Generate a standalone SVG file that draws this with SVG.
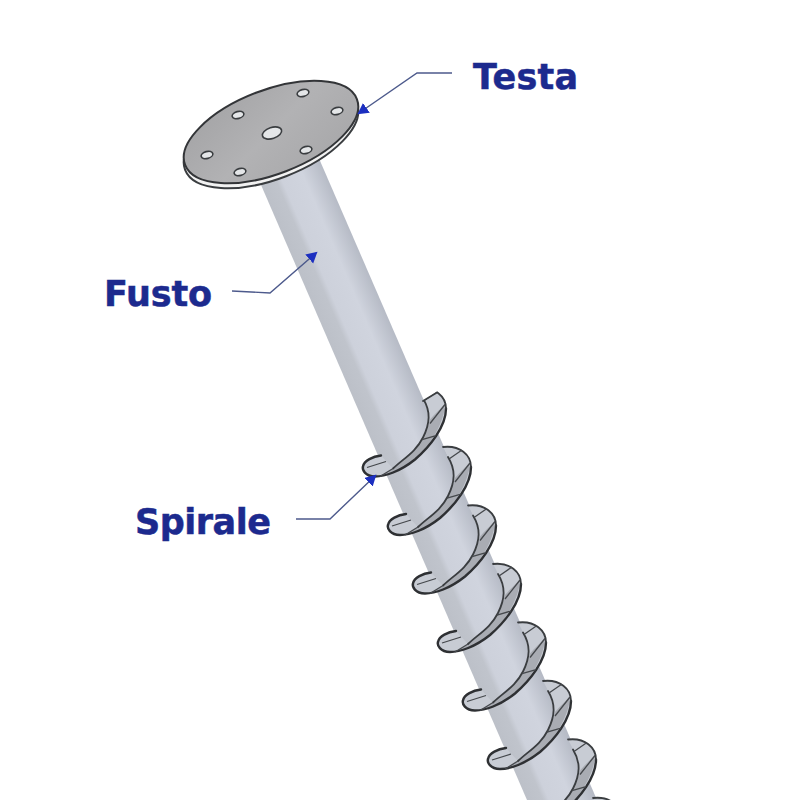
<svg xmlns="http://www.w3.org/2000/svg" xmlns:xlink="http://www.w3.org/1999/xlink" width="800" height="800" viewBox="0 0 800 800">
<style>
.lbl{font-family:"DejaVu Sans","Liberation Sans",sans-serif;font-weight:bold;font-size:35px;fill:#1c2a8e;stroke:#1c2a8e;stroke-width:.5}
.lead{fill:none;stroke:#4d5a8c;stroke-width:1.4}
.edge{fill:none;stroke:#3a3d40;stroke-width:1.8;stroke-linecap:round;stroke-linejoin:round}
.thick{fill:none;stroke:#2e3033;stroke-width:2.4;stroke-linecap:round;stroke-linejoin:round}
.hatch{fill:none;stroke:#45484c;stroke-width:1.3}
.hole{fill:#e4e6e8;stroke:#3a3d40;stroke-width:1.6}
</style>
<defs>
<linearGradient id="sh" gradientUnits="userSpaceOnUse" x1="345" y1="380" x2="410" y2="352">
<stop offset="0" stop-color="#bcc0c8"/><stop offset=".22" stop-color="#c0c4cc"/><stop offset=".3" stop-color="#cdd1db"/><stop offset=".6" stop-color="#d0d4de"/><stop offset="1" stop-color="#aeb3be"/>
</linearGradient>
<linearGradient id="pl" x1="0" y1="0" x2="1" y2="1">
<stop offset="0" stop-color="#a2a2a4"/><stop offset=".5" stop-color="#b2b2b4"/><stop offset="1" stop-color="#a6a6a8"/>
</linearGradient>
<marker id="ah" markerWidth="13" markerHeight="13" refX="9" refY="6" orient="auto" markerUnits="userSpaceOnUse"><path d="M0 0L11 6L0 12Z" fill="#1c2fc0"/></marker>
<clipPath id="firstCut"><path d="M423 401L438 391L470 391L470 520L340 520L340 401Z"/></clipPath>
<g id="blade">
<path d="M443 447C460 445 471 455 471 467C471 485 455 505 440 518C425 530 410 535 400 535C390 535 387 528 388 525C389 519 398 515 406 514L418 527C428 518 440 510 447 497C455 484 456 470 443 447Z" fill="#c8ccd4"/>
<path d="M418 527C430 515 441 510 448 496C452 488 454 483 455 478C460 472 465 468 470 462C470 480 455 505 440 518C425 530 412 534 404 535C409 532 414 530 418 527Z" fill="#a9acb3"/>
<path class="thick" d="M471 467C471 485 455 505 440 518C425 530 410 535 400 535C390 535 387 528 388 525C389 519 398 515 406 514"/>
<path class="edge" d="M443 447C460 445 471 455 471 467"/>
<path class="edge" d="M418 527C430 516 441 510 448 496C455 482 456 470 448 457"/>
<path class="hatch" d="M449 459L462 450M455 482L470 463M447 498L461 494M392 526L411 520M405 535L418 527"/>
</g>
</defs>
<rect width="800" height="800" fill="#ffffff"/>
<g id="shaft">
<path d="M255 171L311 140L597 800L527 800Z" fill="url(#sh)"/>
</g>
<g id="head">
<ellipse cx="271" cy="137" rx="92" ry="42" transform="rotate(-21 271 137)" fill="#f2f2f2" stroke="#3a3d40" stroke-width="2"/>
<ellipse cx="271" cy="132" rx="92" ry="42" transform="rotate(-21 271 132)" fill="url(#pl)" stroke="#333538" stroke-width="2"/>
<ellipse class="hole" cx="303" cy="93" rx="6" ry="3.5" transform="rotate(-15 303 93)"/>
<ellipse class="hole" cx="337" cy="111" rx="6" ry="3.5" transform="rotate(-15 337 111)"/>
<ellipse class="hole" cx="238" cy="115" rx="6" ry="3.5" transform="rotate(-15 238 115)"/>
<ellipse class="hole" cx="272" cy="133" rx="10" ry="5.5" transform="rotate(-18 272 133)"/>
<ellipse class="hole" cx="306" cy="150" rx="6" ry="3.5" transform="rotate(-15 306 150)"/>
<ellipse class="hole" cx="207" cy="155" rx="6" ry="3.5" transform="rotate(-15 207 155)"/>
<ellipse class="hole" cx="240" cy="172" rx="6" ry="3.5" transform="rotate(-15 240 172)"/>
</g>
<g id="spiral">
<g clip-path="url(#firstCut)"><use xlink:href="#blade" href="#blade" transform="translate(-25 -58.5)"/></g>
<path class="edge" d="M423 401L437 392.5"/>
<use xlink:href="#blade" href="#blade"/>
<use xlink:href="#blade" href="#blade" transform="translate(25 58.5)"/>
<use xlink:href="#blade" href="#blade" transform="translate(50 117)"/>
<use xlink:href="#blade" href="#blade" transform="translate(75 175.5)"/>
<use xlink:href="#blade" href="#blade" transform="translate(100 234)"/>
<use xlink:href="#blade" href="#blade" transform="translate(125 292.5)"/>
<use xlink:href="#blade" href="#blade" transform="translate(150 351)"/>
</g>
<g id="connectors">
<path class="lead" d="M452 73L417 73L359 113" marker-end="url(#ah)"/>
<path class="lead" d="M232 291L270 293L316 253" marker-end="url(#ah)"/>
<path class="lead" d="M296 519L330 519L375 476" marker-end="url(#ah)"/>
</g>
<g id="testa"><text class="lbl" x="473" y="89" textLength="105">Testa</text></g>
<g id="fusto"><text class="lbl" x="104" y="306" textLength="108">Fusto</text></g>
<g id="spirale"><text class="lbl" x="135" y="534" textLength="136">Spirale</text></g>
</svg>
